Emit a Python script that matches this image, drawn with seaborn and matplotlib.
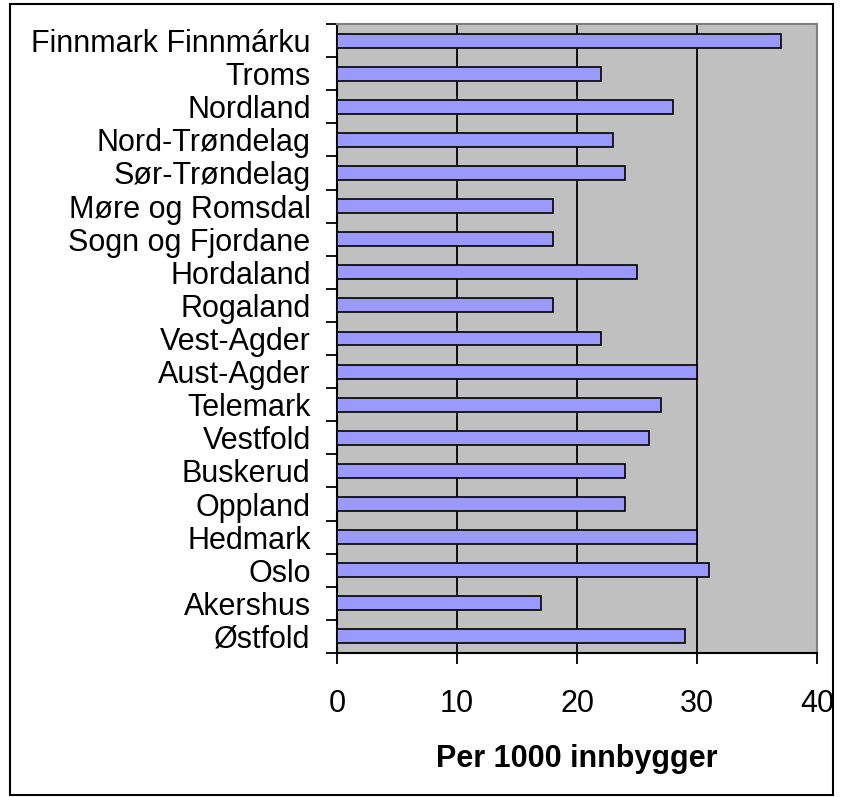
import matplotlib
matplotlib.use("Agg")
import matplotlib.pyplot as plt
import seaborn as sns
import pandas as pd
import numpy as np
from matplotlib.patches import Rectangle

fylker = ["Finnmark Finnmárku", "Troms", "Nordland", "Nord-Trøndelag", "Sør-Trøndelag",
          "Møre og Romsdal", "Sogn og Fjordane", "Hordaland", "Rogaland", "Vest-Agder",
          "Aust-Agder", "Telemark", "Vestfold", "Buskerud", "Oppland", "Hedmark",
          "Oslo", "Akershus", "Østfold"]
verdier = [37, 22, 28, 23, 24, 18, 18, 25, 18, 22, 30, 27, 26, 24, 24, 30, 31, 17, 29]
x_ticks = [0, 10, 20, 30, 40]
x_label = "Per 1000 innbygger"

df = pd.DataFrame({"fylke": fylker, "verdi": verdier})

sns.set_style("white")
plt.rcParams["font.family"] = ["Liberation Sans", "DejaVu Sans"]
plt.rcParams["text.color"] = "black"
plt.rcParams["xtick.color"] = "black"
plt.rcParams["ytick.color"] = "black"
plt.rcParams["axes.labelcolor"] = "black"

fig = plt.figure(figsize=(8.42, 7.97), dpi=100)
ax = fig.add_axes([337/842, 1-653/797, (817-337)/842, (653-24)/797])
ax.set_facecolor("#C0C0C0")

sns.barplot(data=df, y="fylke", x="verdi", order=fylker, orient="h",
            color="#9999FF", edgecolor="black", linewidth=1.2, width=0.42,
            saturation=1, ax=ax, zorder=3)

ax.set_xlim(0, 40)
ax.set_ylim(len(fylker) - 0.5, -0.5)
ax.set_xticks(x_ticks)
ax.set_xticklabels([str(t) for t in x_ticks])
for t in x_ticks[1:-1]:
    ax.axvline(t, color="black", lw=1.3, zorder=1)

ax.set_ylabel("")
ax.set_xlabel(x_label, fontsize=22, fontweight="bold", labelpad=18, color="black")

ax.tick_params(axis="x", direction="out", length=8, width=1.3, colors="black",
               labelsize=22, pad=18, bottom=True)
ax.tick_params(axis="y", which="major", length=0, labelsize=22, pad=19, left=True,
               colors="black")
ax.set_yticks(np.arange(-0.5, len(fylker), 1.0), minor=True)
ax.tick_params(axis="y", which="minor", direction="out", length=8, width=1.3,
               color="black", left=True)

for s in ["left", "bottom"]:
    ax.spines[s].set_color("black")
    ax.spines[s].set_linewidth(1.5)
for s in ["top", "right"]:
    ax.spines[s].set_color("#808080")
    ax.spines[s].set_linewidth(1.5)

fig.patches.append(Rectangle((10/842, 2/797), 823/842, 791/797, transform=fig.transFigure,
                             fill=False, edgecolor="black", linewidth=1.5))

fig.savefig("out.png", dpi=100, facecolor="white")
